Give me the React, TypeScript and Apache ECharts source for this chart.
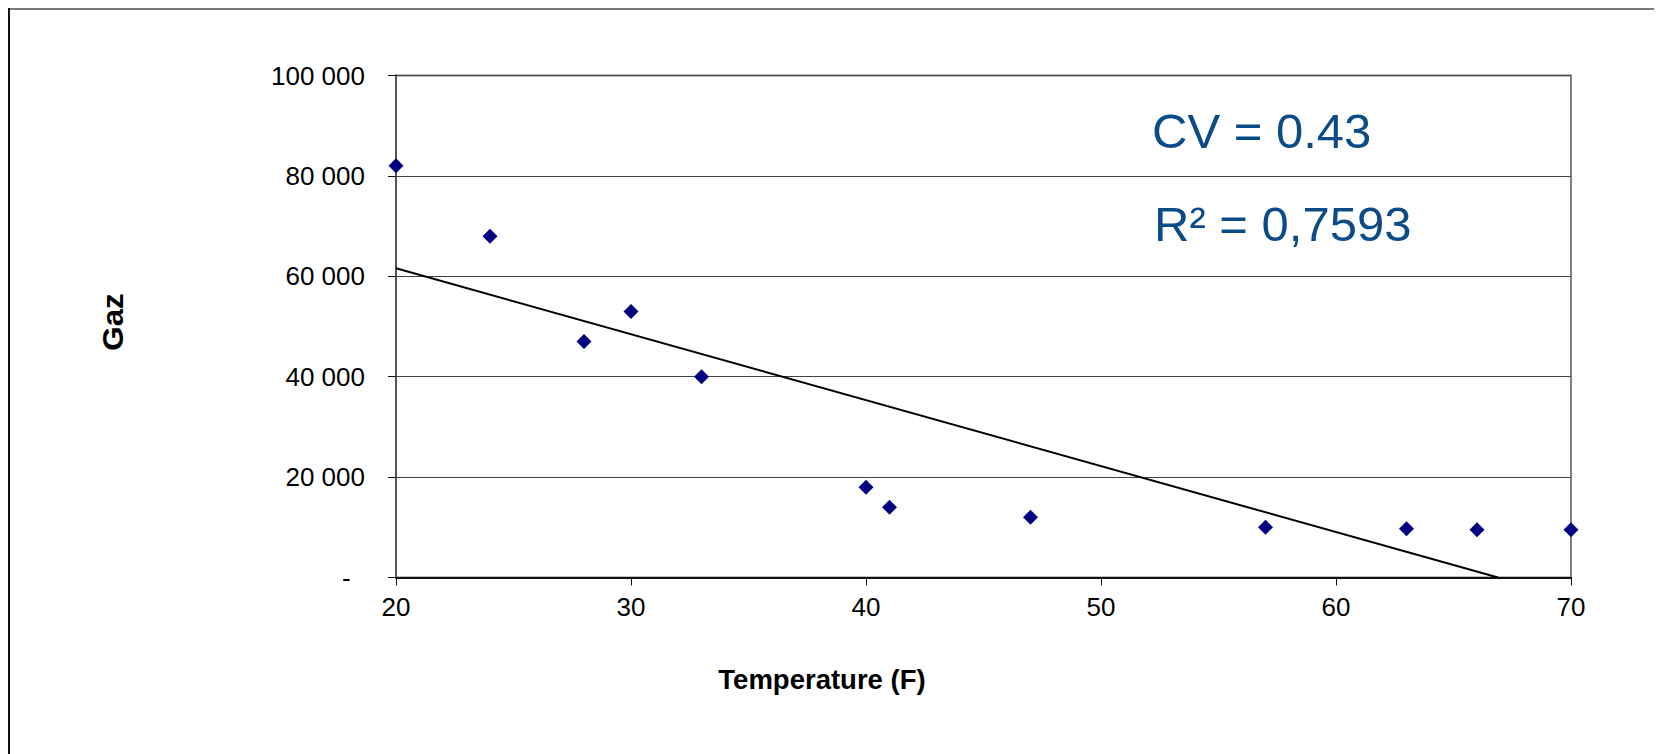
import React, { useEffect, useRef } from "react";
import * as echarts from "echarts";

// Observations: outdoor temperature (F) vs gas consumption
const temperature = [20, 24, 28, 30, 33, 40, 41, 47, 57, 63, 66, 70];
const gas = [82000, 68000, 47000, 53000, 40000, 18000, 14000, 12000, 10000, 9700, 9500, 9500];

// Annotation texts
const cvLabel = "CV = 0.43";
const r2Label = "R² = 0,7593";
const xTitle = "Temperature (F)";
const yTitle = "Gaz";

// Least-squares linear trend through the observations
function linearFit(xs: number[], ys: number[]) {
  const n = xs.length;
  const mx = xs.reduce((a, b) => a + b, 0) / n;
  const my = ys.reduce((a, b) => a + b, 0) / n;
  let sxy = 0;
  let sxx = 0;
  for (let i = 0; i < n; i++) {
    sxy += (xs[i] - mx) * (ys[i] - my);
    sxx += (xs[i] - mx) * (xs[i] - mx);
  }
  const slope = sxy / sxx;
  return { slope, intercept: my - slope * mx };
}

function formatThousands(v: number): string {
  if (v === 0) return "-\u00a0\u00a0";
  return String(Math.round(v)).replace(/\B(?=(\d{3})+(?!\d))/g, " ");
}

export default function App() {
  const ref = useRef<HTMLDivElement>(null);

  useEffect(() => {
    if (!ref.current) return;
    const chart = echarts.init(ref.current, undefined, { renderer: "svg" });

    const { slope, intercept } = linearFit(temperature, gas);
    const xMin = 20;
    const xMax = 70;
    const x0 = Math.min(xMax, -intercept / slope);
    const trend = [
      [xMin, intercept + slope * xMin],
      [x0, Math.max(0, intercept + slope * x0)],
    ];

    const font = "'Liberation Sans', Arial, Helvetica, sans-serif";

    chart.setOption({
      animation: false,
      backgroundColor: "#ffffff",
      textStyle: { fontFamily: font },
      grid: {
        left: 388,
        top: 67.5,
        right: 91,
        bottom: 176.5,
        show: true,
        borderColor: "#808080",
        borderWidth: 2,
        backgroundColor: "transparent",
      },
      xAxis: {
        type: "value",
        min: xMin,
        max: xMax,
        interval: 10,
        axisLine: { show: true, onZero: false, lineStyle: { color: "#111", width: 2 } },
        axisTick: { show: true, inside: false, length: 8, lineStyle: { color: "#111", width: 1 } },
        axisLabel: { color: "#000", fontSize: 26, margin: 16, fontFamily: font },
        splitLine: { show: false },
      },
      yAxis: {
        type: "value",
        min: 0,
        max: 100000,
        interval: 20000,
        axisLine: { show: true, onZero: false, lineStyle: { color: "#555", width: 2 } },
        axisTick: { show: true, inside: false, length: 8, lineStyle: { color: "#111", width: 1 } },
        axisLabel: {
          color: "#000",
          fontSize: 26,
          margin: 31,
          fontFamily: font,
          formatter: (v: number) => formatThousands(v),
        },
        splitLine: { show: true, lineStyle: { color: "#444", width: 1 } },
      },
      series: [
        {
          type: "line",
          data: trend,
          symbol: "none",
          lineStyle: { color: "#000", width: 2 },
          z: 2,
          silent: true,
        },
        {
          type: "scatter",
          data: temperature.map((t, i) => [t, gas[i]]),
          symbol: "diamond",
          symbolSize: 15,
          itemStyle: { color: "#000080", opacity: 1 },
          z: 3,
        },
      ],
      graphic: [
        // outer chart frame
        { type: "line", shape: { x1: 0, y1: 1, x2: 1654, y2: 1 }, style: { stroke: "#777", lineWidth: 2 } },
        { type: "line", shape: { x1: 1, y1: 0, x2: 1, y2: 746 }, style: { stroke: "#111", lineWidth: 2 } },
        { type: "line", shape: { x1: 1653, y1: 0, x2: 1653, y2: 746 }, style: { stroke: "#c8c8c8", lineWidth: 1.5 } },
        {
          type: "text",
          x: 1144,
          y: 123,
          style: {
            text: cvLabel,
            fontSize: 49,
            fontFamily: font,
            fill: "#0B4B87",
            align: "left",
            verticalAlign: "middle",
          },
        },
        {
          type: "text",
          x: 1146,
          y: 215.5,
          style: {
            text: r2Label,
            fontSize: 49,
            fontFamily: font,
            fill: "#0B4B87",
            align: "left",
            verticalAlign: "middle",
          },
        },
        {
          type: "text",
          x: 814,
          y: 671,
          style: {
            text: xTitle,
            fontSize: 27.5,
            fontWeight: "bold",
            fontFamily: font,
            fill: "#000",
            align: "center",
            verticalAlign: "middle",
          },
        },
        {
          type: "text",
          x: 105,
          y: 314,
          rotation: Math.PI / 2,
          scaleX: 1.08,
          style: {
            text: yTitle,
            fontSize: 29,
            fontWeight: "bold",
            fontFamily: font,
            fill: "#000",
            align: "center",
            verticalAlign: "middle",
          },
        },
      ],
    });

    return () => chart.dispose();
  }, []);

  return <div ref={ref} style={{ width: 1654, height: 746 }} />;
}
